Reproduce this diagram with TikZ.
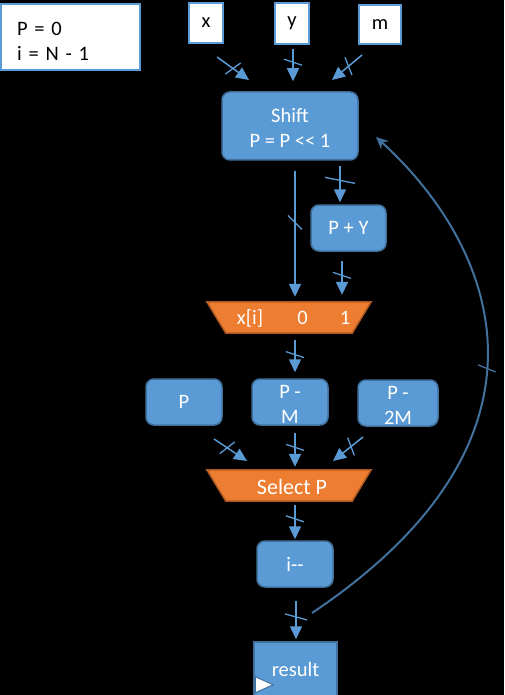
\documentclass[tikz,border=0pt]{standalone}
\usepackage{fontspec}
\setmainfont{Carlito}
\usetikzlibrary{arrows.meta,decorations.markings,calc}
\definecolor{fillblue}{HTML}{5B9BD5}
\definecolor{edgeblue}{HTML}{41719C}
\definecolor{fillorange}{HTML}{ED7D31}
\definecolor{edgeorange}{HTML}{AE5A21}
\begin{document}
\begin{tikzpicture}[x=1pt,y=-1pt,
  txt/.style={font=\fontsize{20.5}{25}\selectfont},
  whitebox/.style={txt, draw=fillblue, line width=2pt, fill=white, text=black, inner sep=0pt},
  bluebox/.style={txt, draw=edgeblue, line width=1.5pt, fill=fillblue, text=white, rounded corners=8pt, align=center, inner sep=0pt},
  orangeshape/.style={fill=fillorange, draw=edgeorange, line width=1.5pt},
  wtext/.style={txt, text=white, inner sep=0pt},
  arr/.style={draw=fillblue, line width=1.5pt, -{Triangle[length=13pt,width=12pt]}},
  fb/.style={draw=edgeblue, line width=2pt, -{Stealth[length=12pt,width=11pt]}},
  bus/.style 2 args={postaction={decorate,decoration={markings,mark=at position #1 with {\draw[-,line width=1.3pt,fillblue] (-3pt,-#2) -- (3pt,#2);}}}},
  busdiag/.style={postaction={decorate,decoration={markings,mark=at position #1 with {\draw[-,line width=1.3pt,fillblue] (-7pt,-7pt) -- (7pt,7pt);}}}},
  busfb/.style={postaction={decorate,decoration={markings,mark=at position #1 with {\draw[-,line width=1.3pt,edgeblue] (-3pt,-9pt) -- (3pt,9pt);}}}}
]
\fill[black] (0,0) rectangle (504,695);
\useasboundingbox (0,0) rectangle (504,695);

% inputs
\node[whitebox, minimum width=139pt, minimum height=66pt, text width=107pt, inner xsep=16pt, align=left] (init) at (70.5,37) {\rule{0pt}{23pt}P = 0\\i = N - 1};
\node[whitebox, minimum width=34pt, minimum height=40pt] (xin) at (206,23) {x};
\node[whitebox, minimum width=34pt, minimum height=41pt] (yin) at (292,23.5) {y};
\node[whitebox, minimum width=42pt, minimum height=39pt] (min) at (380,24.5) {m};

% shift
\node[bluebox, minimum width=136pt, minimum height=68pt] (shift) at (290,126) {\rule{0pt}{19pt}Shift\\P = P <\kern0pt< 1};
\node[bluebox, minimum width=75pt, minimum height=46pt] (py) at (348.5,228) {P + Y};

% mux 1
\node[inner sep=0pt, minimum width=164pt, minimum height=31pt] (mux) at (289,317.5) {};
\filldraw[orangeshape] (mux.north west) -- (mux.north east) -- ($(mux.south east)+(-19,0)$) -- ($(mux.south west)+(19,0)$) -- cycle;
\node[wtext] (muxa) at (250,318) {x[i]};
\node[wtext] (muxb) at (302.5,318) {0};
\node[wtext] (muxc) at (345,318) {1};

% candidates
\node[bluebox, minimum width=76pt, minimum height=46pt] (pp) at (184,402) {P};
\node[bluebox, minimum width=76pt, minimum height=46pt] (pm) at (290,402) {\rule{0pt}{17pt}P -\\M};
\node[bluebox, minimum width=80pt, minimum height=46pt] (p2m) at (398,403) {\rule{0pt}{17pt}P -\\2M};

% select
\node[inner sep=0pt, minimum width=164pt, minimum height=31pt] (sel) at (289,485.5) {};
\filldraw[orangeshape] (sel.north west) -- (sel.north east) -- ($(sel.south east)+(-19,0)$) -- ($(sel.south west)+(19,0)$) -- cycle;
\node[wtext, font=\fontsize{22}{26}\selectfont] (selt) at (292,487) {Select P};

% i-- and result
\node[bluebox, minimum width=76pt, minimum height=46pt] (idec) at (295,564) {i-\kern0pt-};
\node[txt, draw=edgeblue, line width=1.5pt, fill=fillblue, text=white, minimum width=83pt, minimum height=55pt, inner sep=0pt] (res) at (295.5,669.5) {result};
\filldraw[fill=white, draw=edgeblue, line width=1pt] ($(res.south west)+(2,-21)$) -- ($(res.south west)+(20,-13)$) -- ($(res.south west)+(2,-5)$) -- cycle;

% connectors
\coordinate (xa) at (217,57);
\coordinate (xb) at (249,80);
\coordinate (ma) at (362,55);
\coordinate (mb) at (332,80);
\draw[arr, bus={0.5}{9pt}] (xa) -- (xb);
\draw[arr, bus={0.41}{9pt}] ($(yin.south)+(1,4)$) -- ($(yin.south |- shift.north)+(1,-10)$);
\draw[arr, bus={0.45}{9pt}] (ma) -- (mb);

\draw[arr, busdiag=0.41] ($(shift.south)+(5,10)$) -- ($(shift.south |- mux.north)+(5,-5)$);
\draw[arr, bus={0.4}{15pt}] ($(shift.south)+(50,5)$) -- ($(shift.south |- py.north)+(50,-2)$);
\draw[arr, bus={0.43}{9pt}] ($(py.south)+(-6.5,9)$) -- ($(py.south |- mux.north)+(-6.5,-7)$);
\draw[arr, bus={0.45}{9pt}] ($(mux.south)+(6,7)$) -- ($(mux.south |- pm.north)+(6,-6)$);

\coordinate (pa) at (214,439);
\coordinate (pb) at (247,461);
\coordinate (qa) at (363,437);
\coordinate (qb) at (333,461);
\draw[arr, bus={0.4}{9pt}] (pa) -- (pb);
\draw[arr, bus={0.43}{9pt}] ($(pm.south)+(5,7)$) -- ($(pm.south |- sel.north)+(5,-3)$);
\draw[arr, bus={0.4}{9pt}] (qa) -- (qb);

\draw[arr, bus={0.4}{9pt}] ($(sel.south)+(6,4)$) -- ($(sel.south |- idec.north)+(6,-1)$);
\draw[arr, bus={0.42}{11pt}] ($(idec.south)+(1,13)$) -- ($(idec.south |- res.north)+(1,-2)$);

% feedback
\coordinate (fbs) at (312,613);
\coordinate (fbe) at (376,137);
\draw[fb, busfb=0.54] (fbs) .. controls (570,440) and (500,250) .. (fbe);
\end{tikzpicture}
\end{document}
